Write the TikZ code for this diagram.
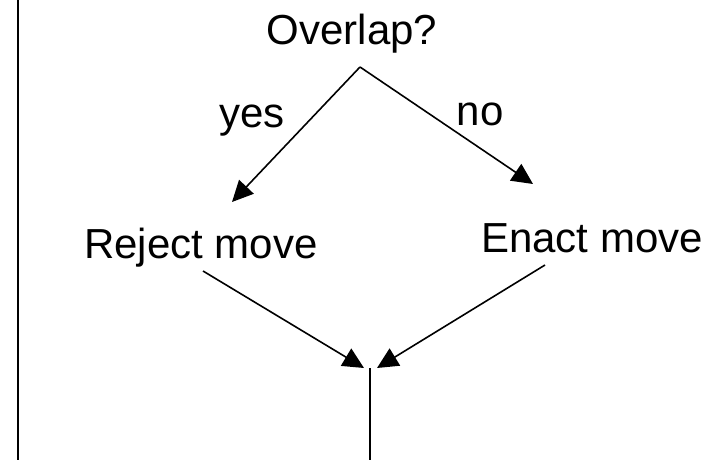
\documentclass[tikz,border=0pt]{standalone}
\usepackage{fontspec}
\setmainfont{Liberation Sans}
\usetikzlibrary{arrows.meta}
\begin{document}
\begin{tikzpicture}[x=1pt,y=-1pt,
  lbl/.style={anchor=base,inner sep=0pt,font=\fontsize{42}{50}\selectfont},
  conn/.style={line width=1.6pt,-{Triangle[length=21pt,width=20pt]}},
  plainline/.style={line width=1.6pt}]
\useasboundingbox (0,0) rectangle (711,460);
\node[lbl] (ov) at (352,45) {Overlap?};
\node[lbl] (yes) at (252,127) {yes};
\node[lbl] (no) at (480,125) {no};
\node[lbl] (rej) at (201,258) {Reject move};
\node[lbl] (ena) at (592,252) {Enact move};
\coordinate (apex) at (360,67);
\coordinate (ltip) at (232,202);
\coordinate (rtip) at (533,184);
\coordinate (rejs) at (203,271);
\coordinate (enas) at (545,265);
\coordinate (mtl) at (364,368);
\coordinate (mtr) at (377,368);
\coordinate (vtop) at (370,368);
\coordinate (vbot) at (370,460);
\coordinate (ltop) at (18,0);
\coordinate (lbot) at (18,460);
\draw[plainline] (ltop) -- (lbot);
\draw[conn] (apex) -- (ltip);
\draw[conn] (apex) -- (rtip);
\draw[conn] (rejs) -- (mtl);
\draw[conn] (enas) -- (mtr);
\draw[plainline] (vtop) -- (vbot);
\end{tikzpicture}
\end{document}
